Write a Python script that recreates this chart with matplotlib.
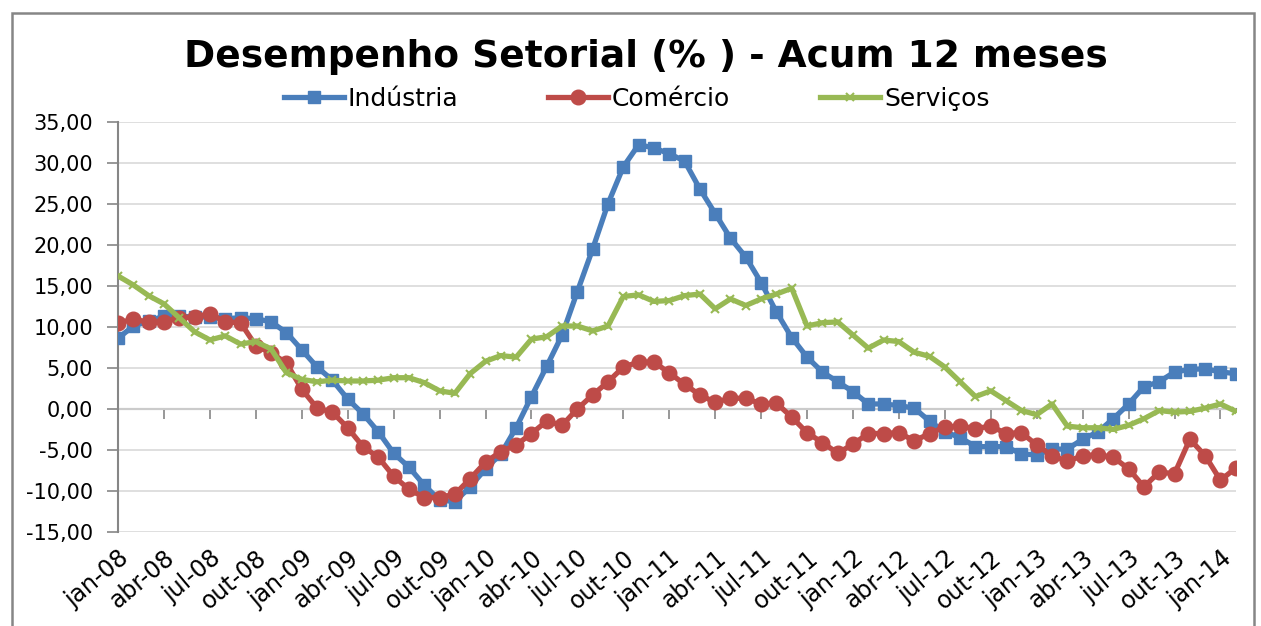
import matplotlib
matplotlib.use('Agg')
import matplotlib.pyplot as plt
from matplotlib.patches import Rectangle

# month labels jan-08 .. fev-14
month_abbr = ['jan', 'fev', 'mar', 'abr', 'mai', 'jun',
              'jul', 'ago', 'set', 'out', 'nov', 'dez']
years = ['08', '09', '10', '11', '12', '13', '14']
months = [f'{m}-{y}' for y in years for m in month_abbr][:74]

industria = [8.6, 10.1, 10.7, 11.3, 11.3, 11.2, 11.2, 11.0, 11.1, 11.0,
             10.6, 9.3, 7.2, 5.1, 3.5, 1.2, -0.6, -2.8, -5.4, -7.1,
             -9.3, -11.1, -11.3, -9.5, -7.3, -5.5, -2.3, 1.5, 5.2, 9.0,
             14.3, 19.5, 25.0, 29.5, 32.2, 31.8, 31.1, 30.2, 26.8, 23.8,
             20.8, 18.5, 15.4, 11.8, 8.7, 6.3, 4.5, 3.3, 2.1, 0.6,
             0.6, 0.4, 0.1, -1.5, -2.8, -3.5, -4.6, -4.6, -4.6, -5.5,
             -5.6, -4.9, -4.9, -3.7, -2.8, -1.2, 0.6, 2.7, 3.3, 4.5,
             4.8, 4.9, 4.5, 4.3]

comercio = [10.5, 10.9, 10.6, 10.6, 11.1, 11.2, 11.6, 10.6, 10.5, 7.7,
            6.8, 5.6, 2.4, 0.1, -0.4, -2.3, -4.6, -5.9, -8.2, -9.8,
            -10.8, -10.8, -10.4, -8.5, -6.5, -5.2, -4.4, -3.0, -1.5, -2.0,
            0.0, 1.7, 3.3, 5.1, 5.7, 5.7, 4.4, 3.0, 1.7, 0.8,
            1.3, 1.3, 0.6, 0.7, -1.0, -2.9, -4.1, -5.4, -4.3, -3.0,
            -3.0, -2.9, -3.9, -3.0, -2.2, -2.1, -2.4, -2.1, -3.0, -2.9,
            -4.4, -5.7, -6.4, -5.7, -5.6, -5.9, -7.3, -9.5, -7.7, -7.9,
            -3.7, -5.7, -8.7, -7.2]

servicos = [16.2, 15.1, 13.8, 12.8, 11.1, 9.4, 8.4, 8.9, 7.9, 8.2,
            7.3, 4.4, 3.6, 3.3, 3.5, 3.4, 3.4, 3.5, 3.8, 3.8,
            3.2, 2.2, 1.9, 4.3, 5.8, 6.5, 6.3, 8.5, 8.8, 10.1,
            10.1, 9.5, 10.1, 13.7, 13.9, 13.1, 13.2, 13.8, 14.0, 12.2,
            13.4, 12.6, 13.4, 14.0, 14.7, 10.1, 10.5, 10.6, 9.0, 7.4,
            8.4, 8.2, 6.9, 6.4, 5.1, 3.3, 1.5, 2.2, 1.0, -0.2,
            -0.7, 0.6, -2.1, -2.3, -2.3, -2.5, -2.0, -1.2, -0.2, -0.4,
            -0.3, 0.1, 0.6, -0.3]

yticks = [35, 30, 25, 20, 15, 10, 5, 0, -5, -10, -15]

plt.rcParams['font.family'] = ['DejaVu Sans']
plt.rcParams['axes.unicode_minus'] = False

fig = plt.figure(figsize=(12.61, 6.26), dpi=100)
ax = fig.add_axes([0.0936, 0.1502, 0.8864, 0.6554])

x = list(range(len(months)))
ax.plot(x, industria, color='#4A7EBB', lw=3.8, marker='s', markersize=9,
        label='Indústria', zorder=3)
ax.plot(x, comercio, color='#BE4B48', lw=3.8, marker='o', markersize=10.5,
        label='Comércio', zorder=4)
ax.plot(x, servicos, color='#98B954', lw=3.8, marker='x', markersize=6,
        markeredgewidth=1.5, label='Serviços', zorder=5)

ax.set_xlim(0, len(months) - 1)
ax.set_ylim(-15, 35)
ax.set_yticks(yticks)
ax.set_yticklabels([f'{v:.2f}'.replace('.', ',') for v in yticks], fontsize=15)
ax.grid(axis='y', color='#D9D9D9', lw=1.2)
ax.set_axisbelow(True)

for s in ['top', 'right', 'bottom']:
    ax.spines[s].set_visible(False)
ax.spines['left'].set_color('#868686')
ax.spines['left'].set_linewidth(1.5)
ax.tick_params(axis='y', length=8, color='#868686', width=1.2, pad=10)

# category labels at the bottom, every 3 months
tick_pos = x[::3]
ax.set_xticks(tick_pos)
ax.set_xticklabels([months[i] for i in tick_pos], rotation=40, ha='right',
                   va='top', rotation_mode='anchor', fontsize=17)
ax.tick_params(axis='x', length=0, pad=10)

# horizontal axis line crossing at zero, with its tick marks
zero_axis = ax.secondary_xaxis(15 / 50)
zero_axis.set_xticks(tick_pos)
zero_axis.set_xticklabels([])
zero_axis.tick_params(axis='x', length=7, color='#868686', width=1.2)
zero_axis.spines['bottom'].set_color('#868686')
zero_axis.spines['bottom'].set_linewidth(1.5)

fig.text(0.512, 0.909, 'Desempenho Setorial (% ) - Acum 12 meses',
         ha='center', va='center', fontsize=27, fontweight='bold')

fig.legend(loc='center', bbox_to_anchor=(0.505, 0.842), ncol=3, frameon=False,
           fontsize=18, handlelength=2.4, handletextpad=0.15, columnspacing=3.6)

fig.add_artist(Rectangle((0.0095, -0.05), 0.985, 1.029, transform=fig.transFigure,
                         fill=False, edgecolor='#868686', lw=1.8, clip_on=False))

fig.savefig('out.png', dpi=100)
